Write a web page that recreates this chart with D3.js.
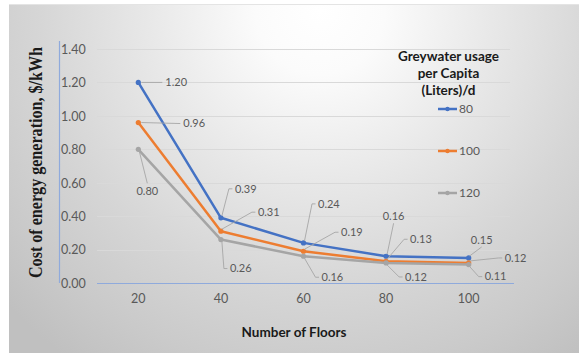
<!DOCTYPE html>
<html>
<head>
<meta charset="utf-8">
<script src="https://cdn.jsdelivr.net/npm/d3@7/dist/d3.min.js"></script>
<style>
  html, body { margin: 0; padding: 0; background: #ffffff; }
  svg { display: block; }
</style>
</head>
<body>
<svg id="chart" width="579" height="353"></svg>
<script>
// Number of floors (category axis)
const floors = ["20", "40", "60", "80", "100"];

// Cost of energy generation ($/kWh) per greywater usage level
const seriesNames = ["80", "100", "120"];
const cost80  = [1.20, 0.39, 0.24, 0.16, 0.15];
const cost100 = [0.96, 0.31, 0.19, 0.13, 0.12];
const cost120 = [0.80, 0.26, 0.16, 0.12, 0.11];

// Value axis ticks
const yTicks = [0, 0.2, 0.4, 0.6, 0.8, 1.0, 1.2, 1.4];

const colors = ["#4472c4", "#ed7d31", "#a5a5a5"];
const seriesValues = [cost80, cost100, cost120];

// Data label placement: [dx, dy, kind] relative to each point.
// kind "side": text starts at dx with a leader to its left edge;
// "above"/"below": text centred at dx with a leader to its bottom/top.
const labelPlacement = [
  [[27, 0, "side"], [14, -29, "side"], [14.5, -39, "side"], [7.5, -40, "above"], [13, -18, "above"]],
  [[45, 1, "side"], [37, -19, "side"], [37.5, -19, "side"], [24, -22, "side"], [36, -5, "side"]],
  [[9, 42, "below"], [9, 29, "side"], [18, 21, "side"], [19, 14, "side"], [16, 12, "side"]]
];

const svg = d3.select("#chart");
const W = 579, H = 353;

// Soft radial background of the chart area
const defs = svg.append("defs");
const grad = defs.append("radialGradient")
  .attr("id", "bg")
  .attr("gradientUnits", "userSpaceOnUse")
  .attr("cx", 320).attr("cy", 10).attr("r", 430)
  .attr("fx", 320).attr("fy", 10);
[[0, "#ffffff"], [0.15, "#fbfbfb"], [0.4, "#e8e8e8"], [0.65, "#d6d6d6"], [0.85, "#cacaca"], [1, "#c0c0c0"]]
  .forEach(([o, c]) => grad.append("stop").attr("offset", o).attr("stop-color", c));

svg.append("rect").attr("x", 9).attr("y", 4).attr("width", W - 9).attr("height", H - 4)
  .attr("fill", "url(#bg)");
svg.append("line").attr("x1", 9).attr("x2", W).attr("y1", 4.5).attr("y2", 4.5)
  .attr("stroke", "#e4e4e4").attr("stroke-width", 1);

const plot = { left: 97, right: 510, top: 49, bottom: 283 };

const x = d3.scaleBand().domain(floors).range([plot.left, plot.right]).padding(0);
const y = d3.scaleLinear().domain([0, 1.4]).range([plot.bottom, plot.top]);
const cx = d => x(d) + x.bandwidth() / 2;

const tickFont = "Lato, 'Open Sans', sans-serif";

// Horizontal gridlines
svg.append("g")
  .selectAll("line")
  .data(yTicks.filter(t => t > 0))
  .join("line")
  .attr("x1", plot.left).attr("x2", plot.right)
  .attr("y1", d => Math.round(y(d)) + 0.5).attr("y2", d => Math.round(y(d)) + 0.5)
  .attr("stroke", "#d9d9d9").attr("stroke-width", 1);

// Vertical value-axis line with labels to its right
svg.append("line")
  .attr("x1", 59.5).attr("x2", 59.5).attr("y1", 41).attr("y2", plot.bottom)
  .attr("stroke", "#8faadc").attr("stroke-width", 1.2);

const yAxis = d3.axisRight(y).tickValues(yTicks).tickFormat(d3.format(".2f")).tickSize(0).tickPadding(0);
const gy = svg.append("g").attr("transform", "translate(61,0)").call(yAxis);
gy.select(".domain").remove();
gy.selectAll("text")
  .attr("font-family", tickFont).attr("font-size", 12.5)
  .attr("fill", "#595959").attr("dy", "0.35em");

// Category axis
const xAxis = d3.axisBottom(x).tickSize(0).tickPadding(0);
const gx = svg.append("g").attr("transform", `translate(0,${plot.bottom})`).call(xAxis);
gx.select(".domain").remove();
gx.selectAll("text")
  .attr("font-family", tickFont).attr("font-size", 12.5)
  .attr("fill", "#595959").attr("y", 16).attr("dy", "0.35em");
svg.append("line")
  .attr("x1", plot.left).attr("x2", 514).attr("y1", plot.bottom + 0.5).attr("y2", plot.bottom + 0.5)
  .attr("stroke", "#8faadc").attr("stroke-width", 1.2);

// Axis titles
svg.append("text")
  .attr("transform", "translate(42,162.5) rotate(-90)")
  .attr("text-anchor", "middle")
  .attr("font-family", "'Liberation Serif', 'Times New Roman', serif")
  .attr("font-weight", "bold").attr("font-size", 18.5)
  .attr("fill", "#1a1a1a")
  .attr("textLength", 231).attr("lengthAdjust", "spacingAndGlyphs")
  .text("Cost of energy generation,  $/kWh");

svg.append("text")
  .attr("x", 294).attr("y", 337)
  .attr("text-anchor", "middle")
  .attr("font-family", tickFont).attr("font-weight", "bold").attr("font-size", 13.5)
  .attr("fill", "#1a1a1a")
  .text("Number of Floors");

// Lines and markers
const line = d3.line().x((d, i) => cx(floors[i])).y(d => y(d));
seriesValues.forEach((vals, s) => {
  svg.append("path")
    .datum(vals)
    .attr("d", line)
    .attr("fill", "none")
    .attr("stroke", colors[s])
    .attr("stroke-width", 2.5)
    .attr("stroke-linejoin", "round");
  svg.append("g").selectAll("circle")
    .data(vals)
    .join("circle")
    .attr("cx", (d, i) => cx(floors[i]))
    .attr("cy", d => y(d))
    .attr("r", 2.6)
    .attr("fill", colors[s]);
});

// Data labels with leader lines
const labelFont = "Lato, 'Open Sans', sans-serif";
seriesValues.forEach((vals, s) => {
  vals.forEach((v, i) => {
    const px = cx(floors[i]), py = y(v);
    const [dx, dy, kind] = labelPlacement[s][i];
    const tx = px + dx, ty = py + dy;
    let pts;
    let anchor = "start";
    if (kind === "side") {
      pts = Math.abs(dy) < 2
        ? [[px + 3, py], [tx - 3, ty]]
        : [[px + 1, py + (dy < 0 ? -2 : 2)], [tx - 6, ty], [tx - 2.5, ty]];
    } else if (kind === "above") {
      anchor = "middle";
      pts = [[px + 1, py - 2], [tx, ty + 7]];
    } else {
      anchor = "middle";
      pts = [[px + 1, py + 2], [tx, ty - 8]];
    }
    svg.append("path")
      .attr("d", d3.line()(pts))
      .attr("fill", "none")
      .attr("stroke", "#a6a6a6")
      .attr("stroke-width", 0.9);
    svg.append("text")
      .attr("x", tx).attr("y", ty).attr("dy", "0.35em")
      .attr("text-anchor", anchor)
      .attr("font-family", labelFont).attr("font-size", 11)
      .attr("fill", "#595959")
      .text(d3.format(".2f")(v));
  });
});

// Legend
const legendTitle = ["Greywater usage", "per Capita", "(Liters)/d"];
svg.append("text")
  .attr("text-anchor", "middle")
  .attr("font-family", tickFont).attr("font-weight", "bold").attr("font-size", 13.5)
  .attr("fill", "#1a1a1a")
  .selectAll("tspan")
  .data(legendTitle)
  .join("tspan")
  .attr("x", 448.5)
  .attr("y", (d, i) => 61 + i * 17)
  .text(d => d);

const legendY = [109, 151, 193];
seriesNames.forEach((name, s) => {
  const g = svg.append("g").attr("transform", `translate(0,${legendY[s]})`);
  g.append("line").attr("x1", 438).attr("x2", 457).attr("y1", 0).attr("y2", 0)
    .attr("stroke", colors[s]).attr("stroke-width", 2.5);
  g.append("circle").attr("cx", 447.5).attr("cy", 0).attr("r", 2.2).attr("fill", colors[s]);
  g.append("text").attr("x", 459).attr("y", 0).attr("dy", "0.35em")
    .attr("font-family", tickFont).attr("font-size", 12)
    .attr("fill", "#595959")
    .text(name);
});
</script>
</body>
</html>
